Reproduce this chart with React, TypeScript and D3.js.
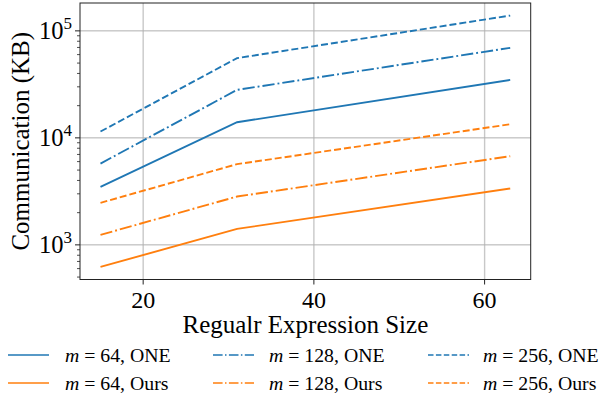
import { useEffect, useRef } from "react";
import * as d3 from "d3";

// regular expression sizes (x)
const sizes = [15, 31, 63];

// communication in KB
const oneM64 = [3480, 14000, 34800];
const oneM128 = [5750, 28100, 69400];
const oneM256 = [11460, 55600, 139000];
const oursM64 = [622, 1410, 3360];
const oursM128 = [1240, 2830, 6740];
const oursM256 = [2470, 5680, 13400];

const xTicks = [20, 40, 60];
const yTickExps = [3, 4, 5];

const legendLabels = [
  ["64", "ONE"],
  ["128", "ONE"],
  ["256", "ONE"],
  ["64", "Ours"],
  ["128", "Ours"],
  ["256", "Ours"],
];

const BLUE = "#1f77b4";
const ORANGE = "#ff7f0e";
const FONT = "'Liberation Serif', 'DejaVu Serif', serif";

export default function App() {
  const ref = useRef<SVGSVGElement | null>(null);

  useEffect(() => {
    if (!ref.current) return;
    const svg = d3.select(ref.current);
    svg.selectAll("*").remove();

    const width = 603;
    const height = 396;
    const plot = { left: 80, right: 530.7, top: 3, bottom: 279.5 };

    const series = [
      { values: oneM64, color: BLUE, dash: "none" },
      { values: oneM128, color: BLUE, dash: "12.2,3,1.9,3" },
      { values: oneM256, color: BLUE, dash: "7,3" },
      { values: oursM64, color: ORANGE, dash: "none" },
      { values: oursM128, color: ORANGE, dash: "12.2,3,1.9,3" },
      { values: oursM256, color: ORANGE, dash: "7,3" },
    ];

    // matplotlib-like 5% margins
    const xExt = d3.extent(sizes) as [number, number];
    const xPad = (xExt[1] - xExt[0]) * 0.05;
    const x = d3
      .scaleLinear()
      .domain([xExt[0] - xPad, xExt[1] + xPad])
      .range([plot.left, plot.right]);

    const all = series.flatMap((s) => s.values);
    const lo = Math.log10(d3.min(all) ?? 1);
    const hi = Math.log10(d3.max(all) ?? 10);
    const yPad = (hi - lo) * 0.05;
    const y = d3
      .scaleLog()
      .domain([10 ** (lo - yPad), 10 ** (hi + yPad)])
      .range([plot.bottom, plot.top]);

    svg.attr("width", width).attr("height", height);

    // grid
    const grid = svg.append("g");
    grid
      .selectAll("line.v")
      .data(xTicks)
      .join("line")
      .attr("x1", (d) => x(d))
      .attr("x2", (d) => x(d))
      .attr("y1", plot.top)
      .attr("y2", plot.bottom)
      .attr("stroke", "#c8c8c8")
      .attr("stroke-width", 1.4);
    grid
      .selectAll("line.h")
      .data(yTickExps)
      .join("line")
      .attr("x1", plot.left)
      .attr("x2", plot.right)
      .attr("y1", (d) => y(10 ** d))
      .attr("y2", (d) => y(10 ** d))
      .attr("stroke", "#b0b0b0")
      .attr("stroke-width", 1);

    // lines
    const line = d3
      .line<number>()
      .x((_, i) => x(sizes[i]))
      .y((d) => y(d));

    svg
      .append("g")
      .selectAll("path")
      .data(series)
      .join("path")
      .attr("d", (d) => line(d.values))
      .attr("fill", "none")
      .attr("stroke", (d) => d.color)
      .attr("stroke-width", 1.9)
      .attr("stroke-dasharray", (d) => d.dash);

    // frame
    svg
      .append("rect")
      .attr("x", plot.left)
      .attr("y", plot.top)
      .attr("width", plot.right - plot.left)
      .attr("height", plot.bottom - plot.top)
      .attr("fill", "none")
      .attr("stroke", "#222")
      .attr("stroke-width", 1);

    // x ticks
    const xt = svg.append("g");
    xt.selectAll("line")
      .data(xTicks)
      .join("line")
      .attr("x1", (d) => x(d))
      .attr("x2", (d) => x(d))
      .attr("y1", plot.bottom)
      .attr("y2", plot.bottom + 5)
      .attr("stroke", "#222");
    xt.selectAll("text")
      .data(xTicks)
      .join("text")
      .attr("x", (d) => x(d))
      .attr("y", plot.bottom + 28)
      .attr("text-anchor", "middle")
      .attr("font-family", FONT)
      .attr("font-size", 24)
      .text((d) => d);

    // y ticks (major + minor)
    const [d0, d1] = y.domain();
    const minor: number[] = [];
    for (let e = Math.floor(Math.log10(d0)); e <= Math.ceil(Math.log10(d1)); e++) {
      for (let k = 2; k <= 9; k++) {
        const v = k * 10 ** e;
        if (v >= d0 && v <= d1) minor.push(v);
      }
    }
    const yt = svg.append("g");
    yt.selectAll("line.minor")
      .data(minor)
      .join("line")
      .attr("x1", plot.left - 3)
      .attr("x2", plot.left)
      .attr("y1", (d) => y(d))
      .attr("y2", (d) => y(d))
      .attr("stroke", "#222")
      .attr("stroke-width", 0.8);
    yt.selectAll("line.major")
      .data(yTickExps)
      .join("line")
      .attr("x1", plot.left - 5)
      .attr("x2", plot.left)
      .attr("y1", (d) => y(10 ** d))
      .attr("y2", (d) => y(10 ** d))
      .attr("stroke", "#222");
    const lab = yt
      .selectAll("text")
      .data(yTickExps)
      .join("text")
      .attr("x", plot.left - 8)
      .attr("y", (d) => y(10 ** d) + 8.5)
      .attr("text-anchor", "end")
      .attr("font-family", FONT)
      .attr("font-size", 24.5);
    lab.append("tspan").text("10");
    lab
      .append("tspan")
      .attr("dy", -10)
      .attr("font-size", 17)
      .text((d) => d);

    // axis labels
    svg
      .append("text")
      .attr("x", (plot.left + plot.right) / 2)
      .attr("y", 333)
      .attr("text-anchor", "middle")
      .attr("font-family", FONT)
      .attr("font-size", 25)
      .text("Regualr Expression Size");
    svg
      .append("text")
      .attr("transform", `translate(29,${(plot.top + plot.bottom) / 2}) rotate(-90)`)
      .attr("text-anchor", "middle")
      .attr("font-family", FONT)
      .attr("font-size", 25)
      .text("Communication (KB)");

    // legend
    const colLine = [8, 213, 428];
    const colText = [65, 269, 483];
    const rowY = [355, 383];
    const lg = svg
      .append("g")
      .selectAll("g")
      .data(series)
      .join("g")
      .attr("transform", (_, i) => `translate(0,${rowY[Math.floor(i / 3)]})`);
    lg.append("line")
      .attr("x1", (_, i) => colLine[i % 3])
      .attr("x2", (_, i) => colLine[i % 3] + 41)
      .attr("stroke", (d) => d.color)
      .attr("stroke-width", 1.5)
      .attr("stroke-dasharray", (d) =>
        d.dash === "none" ? "none" : d.dash === "7,3" ? "5.5,2.4" : "9.6,2.4,1.5,2.4"
      );
    const lt = lg
      .append("text")
      .attr("x", (_, i) => colText[i % 3])
      .attr("y", 6.5)
      .attr("font-family", FONT)
      .attr("font-size", 19.8);
    lt.append("tspan").attr("font-style", "italic").text("m");
    lt.append("tspan").text((_, i) => ` = ${legendLabels[i][0]}, ${legendLabels[i][1]}`);
  }, []);

  return (
    <div style={{ position: "fixed", left: 0, top: 0 }}>
      <svg ref={ref} width={603} height={396} style={{ display: "block", background: "#fff" }} />
    </div>
  );
}
